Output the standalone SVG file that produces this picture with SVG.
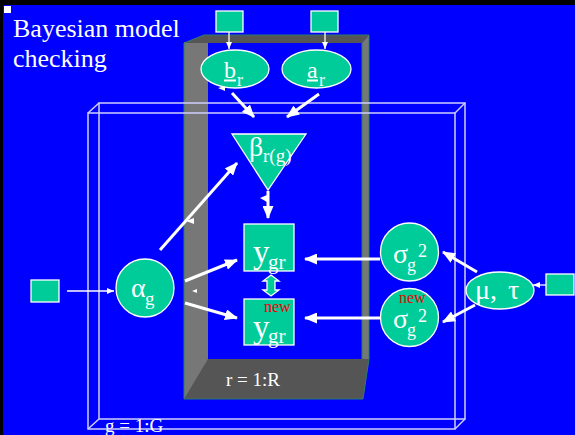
<svg xmlns="http://www.w3.org/2000/svg" width="575" height="435" viewBox="0 0 575 435">
<defs>
<style>
.t{font-family:"Liberation Serif","Times New Roman",serif;fill:#ffffff}
.red{font-family:"Liberation Serif","Times New Roman",serif;fill:#ee0000;font-size:16px}
.node{fill:#00cc99;stroke:#ffffff;stroke-width:1.3}
.thick{stroke:#ffffff;stroke-width:3;fill:none}
.thin{stroke:#ffffff;stroke-width:1.3;fill:none}
.box{stroke:#d0d0ff;stroke-width:1.5;fill:none}
</style>
<marker id="ah" viewBox="0 0 13 11" markerWidth="13" markerHeight="11" refX="12" refY="5.5" orient="auto" markerUnits="userSpaceOnUse">
<path d="M0,0 L13,5.5 L0,11 Z" fill="#ffffff"/>
</marker>
<marker id="as" viewBox="0 0 7 6" markerWidth="7" markerHeight="6" refX="7" refY="3" orient="auto" markerUnits="userSpaceOnUse">
<path d="M0,0 L7,3 L0,6 Z" fill="#ffffff"/>
</marker>
</defs>
<rect x="0" y="0" width="575" height="435" fill="#000000"/>
<rect x="3" y="5" width="572" height="430" fill="#0000ff"/>
<rect x="4" y="6" width="7" height="7" fill="#ffffff"/>

<g id="plate-r">
<rect x="184" y="42" width="24" height="357" fill="#777777"/>
<polygon points="184,43 204,35 369,35 362,43" fill="#555555"/>
<polygon points="362,43 369,35 369,359 362,359" fill="#777777"/>
<polygon points="208,359 369,359 363,399 184,399" fill="#555555"/>
<path d="M184,43 L204,35 L369,35 L369,359 L363,399 L184,399 Z" fill="none" stroke="#2e7d6b" stroke-width="1"/>
<line x1="362" y1="43" x2="362" y2="359" stroke="#2e7d6b" stroke-width="1"/>
<text class="t" x="226" y="386" font-size="19" fill="#e6e6e6">r = 1:R</text>
</g>

<g id="plate-g">
<rect class="box" x="99" y="103" width="366" height="316"/>
<rect class="box" x="88" y="113" width="367" height="316"/>
<line class="box" x1="88" y1="113" x2="99" y2="103"/>
<line class="box" x1="455" y1="113" x2="465" y2="103"/>
<line class="box" x1="455" y1="429" x2="465" y2="419"/>
<line class="box" x1="88" y1="429" x2="99" y2="419"/>
<text class="t" x="105" y="432" font-size="19">g = 1:G</text>
</g>

<g id="title">
<text class="t" x="13" y="37" font-size="26">Bayesian model</text>
<text class="t" x="13" y="67" font-size="26">checking</text>
</g>

<g id="connectors">
<line class="thin" x1="229" y1="32" x2="229" y2="49" marker-end="url(#as)"/>
<line class="thin" x1="325" y1="32" x2="325" y2="49" marker-end="url(#as)"/>
<line class="thin" x1="67" y1="291" x2="114" y2="291" marker-end="url(#as)"/>
<line class="thin" x1="546" y1="285" x2="533" y2="285" marker-end="url(#as)"/>
<line class="thick" x1="232" y1="93" x2="254" y2="117" marker-end="url(#ah)"/>
<line class="thick" x1="319" y1="94" x2="287" y2="117" marker-end="url(#ah)"/>
<line class="thick" x1="268" y1="191" x2="268" y2="218" stroke-width="2.5" marker-end="url(#ah)"/>
<line class="thick" x1="160" y1="250" x2="237" y2="163" marker-end="url(#ah)"/>
<line class="thick" x1="185" y1="281" x2="237" y2="260" marker-end="url(#ah)"/>
<line class="thick" x1="185" y1="303" x2="237" y2="318" marker-end="url(#ah)"/>
<line class="thick" x1="380" y1="259" x2="305" y2="259" marker-end="url(#ah)"/>
<line class="thick" x1="380" y1="318" x2="305" y2="318" marker-end="url(#ah)"/>
<line class="thick" x1="477" y1="272" x2="443" y2="252" marker-end="url(#ah)"/>
<line class="thick" x1="475" y1="305" x2="443" y2="322" marker-end="url(#ah)"/>
<polygon class="node" points="271,275 279,281 275,281 275,290 279,290 271,296 263,290 267,290 267,281 263,281"/>
<polygon points="218,88 225,86 225,91" fill="#ffffff"/>
<polygon points="186,221 194,218 194,224" fill="#ffffff"/>
<polygon points="260,198 267,195 267,202" fill="#ffffff"/>
<polygon points="192,291 197,289 197,293" fill="#ffffff"/>
</g>

<g id="prior-b"><rect class="node" x="216" y="11" width="27" height="21"/></g>
<g id="prior-a"><rect class="node" x="311" y="11" width="27" height="21"/></g>
<g id="prior-alpha"><rect class="node" x="31" y="280" width="28" height="22"/></g>
<g id="prior-mu"><rect class="node" x="546" y="274" width="28" height="21"/></g>

<g id="b-r">
<ellipse class="node" cx="235" cy="69" rx="34" ry="19"/>
<text class="t" x="224" y="78" font-size="24">b</text>
<line x1="224" y1="80.5" x2="236" y2="80.5" stroke="#ffffff" stroke-width="2"/>
<text class="t" x="237" y="86" font-size="18">r</text>
</g>

<g id="a-r">
<ellipse class="node" cx="316.5" cy="69" rx="34.5" ry="19"/>
<text class="t" x="307" y="78" font-size="24">a</text>
<line x1="307" y1="80.5" x2="318" y2="80.5" stroke="#ffffff" stroke-width="2"/>
<text class="t" x="319" y="86" font-size="18">r</text>
</g>

<g id="beta">
<polygon class="node" points="232,134 306,134 268,190"/>
<text class="t" x="249" y="156" font-size="28">β</text>
<text class="t" x="263" y="162" font-size="19">r(g)</text>
</g>

<g id="alpha">
<circle class="node" cx="145" cy="288" r="29"/>
<text class="t" x="131" y="297" font-size="28">α</text>
<text class="t" x="145" y="305" font-size="19">g</text>
</g>

<g id="y-gr">
<rect class="node" x="244" y="224" width="50" height="47"/>
<text class="t" x="253" y="263" font-size="33">y</text>
<text class="t" x="268" y="269" font-size="21">gr</text>
</g>

<g id="y-new">
<rect class="node" x="244" y="299" width="50" height="46"/>
<text class="red" x="264" y="312">new</text>
<text class="t" x="253" y="338" font-size="33">y</text>
<text class="t" x="268" y="343" font-size="21">gr</text>
</g>

<g id="sigma">
<circle class="node" cx="409.5" cy="252" r="29"/>
<text class="t" x="393" y="263" font-size="28">σ</text>
<text class="t" x="407" y="271" font-size="18">g</text>
<text class="t" x="418" y="257" font-size="18">2</text>
</g>

<g id="sigma-new">
<circle class="node" cx="409.5" cy="317.5" r="29"/>
<text class="red" x="399" y="303">new</text>
<text class="t" x="393" y="328" font-size="28">σ</text>
<text class="t" x="407" y="336" font-size="18">g</text>
<text class="t" x="418" y="322" font-size="18">2</text>
</g>

<g id="mu-tau">
<ellipse class="node" cx="500" cy="290.5" rx="34" ry="18.5"/>
<text class="t" x="475" y="299" font-size="28" word-spacing="4">μ, τ</text>
</g>
</svg>
